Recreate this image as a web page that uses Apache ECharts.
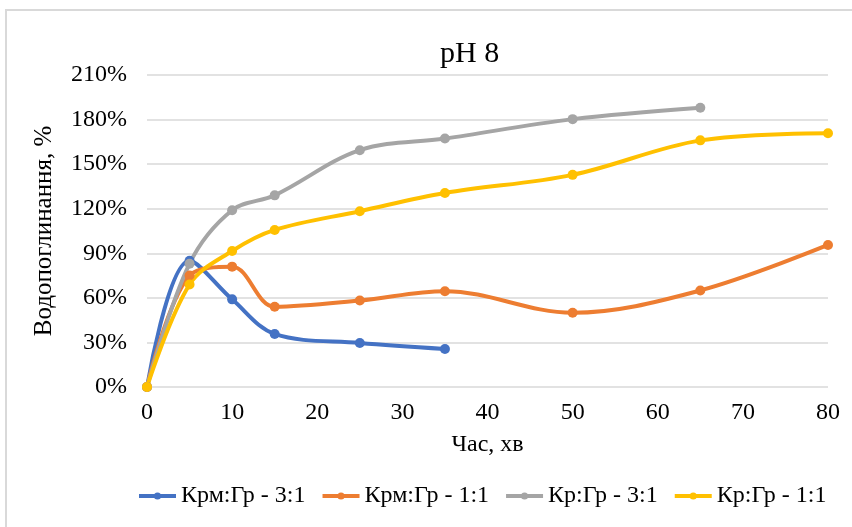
<!DOCTYPE html>
<html>
<head>
<meta charset="utf-8">
<script src="https://cdn.jsdelivr.net/npm/echarts@6/dist/echarts.min.js"></script>
<style>
  html, body { margin: 0; padding: 0; background: #fff; }
  #frame { position: absolute; left: 5px; top: 9px; width: 847px; height: 518px;
           border-top: 2px solid #d9d9d9; border-left: 2px solid #d9d9d9; box-sizing: border-box; }
  #chart { position: absolute; left: 0; top: 0; width: 852px; height: 527px; }
</style>
</head>
<body>
<div id="frame"></div>
<div id="chart"></div>
<script>
  // час, хв
  const xKrm31 = [0, 5, 10, 15, 25, 35];
  const xLong = [0, 5, 10, 15, 25, 35, 50, 65, 80];
  const xKr31 = [0, 5, 10, 15, 25, 35, 50, 65];

  // водопоглинання, %
  const krm31 = [0, 85, 59, 35.7, 29.6, 25.6];
  const krm11 = [0, 75, 81, 54, 58.2, 64.5, 50, 65, 95.6];
  const kr31 = [0, 83, 119, 129, 159.4, 167.2, 180.3, 188];
  const kr11 = [0, 69, 91.5, 105.7, 118.3, 130.6, 142.8, 166, 170.8];

  const names = ['Крм:Гр - 3:1', 'Крм:Гр - 1:1', 'Кр:Гр - 3:1', 'Кр:Гр - 1:1'];
  const colors = ['#4472c4', '#ed7d31', '#a5a5a5', '#ffc000'];

  const font = 'Liberation Serif';

  const pairs = (xs, ys) => xs.map((x, i) => [x, ys[i]]);

  const mkSeries = (name, data, color) => ({
    name: name,
    type: 'line',
    smooth: 0.35,
    data: data,
    symbol: 'circle',
    symbolSize: 10,
    lineStyle: { width: 4, color: color },
    itemStyle: { color: color },
    emphasis: { disabled: true }
  });

  const chart = echarts.init(document.getElementById('chart'));
  chart.setOption({
    animation: false,
    title: {
      text: 'pH 8',
      left: 435,
      top: 34,
      textStyle: { fontFamily: font, fontSize: 30, fontWeight: 'normal', color: '#000' }
    },
    legend: {
      top: 479,
      left: 132,
      itemWidth: 37,
      itemHeight: 9,
      itemGap: 15,
      lineStyle: { width: 4 },
      textStyle: { fontFamily: font, fontSize: 24, color: '#000' },
      data: names
    },
    grid: { left: 147, right: 24, top: 75, bottom: 140 },
    xAxis: {
      type: 'value',
      min: 0,
      max: 80,
      interval: 10,
      name: 'Час, хв',
      nameLocation: 'middle',
      nameGap: 46,
      nameTextStyle: { fontFamily: font, fontSize: 24, color: '#000' },
      axisLine: { show: false },
      axisTick: { show: false },
      splitLine: { show: false },
      axisLabel: { fontFamily: font, fontSize: 24, color: '#000', margin: 14 }
    },
    yAxis: {
      type: 'value',
      min: 0,
      max: 210,
      interval: 30,
      name: 'Водопоглинання, %',
      nameLocation: 'middle',
      nameGap: 90,
      nameTextStyle: { fontFamily: font, fontSize: 25, color: '#000' },
      axisLine: { show: false },
      axisTick: { show: false },
      splitLine: { lineStyle: { color: '#d9d9d9', width: 1.5 } },
      axisLabel: { fontFamily: font, fontSize: 24, color: '#000', margin: 20, formatter: '{value}%' }
    },
    series: [
      mkSeries(names[0], pairs(xKrm31, krm31), colors[0]),
      mkSeries(names[1], pairs(xLong, krm11), colors[1]),
      mkSeries(names[2], pairs(xKr31, kr31), colors[2]),
      mkSeries(names[3], pairs(xLong, kr11), colors[3])
    ]
  });
</script>
</body>
</html>
